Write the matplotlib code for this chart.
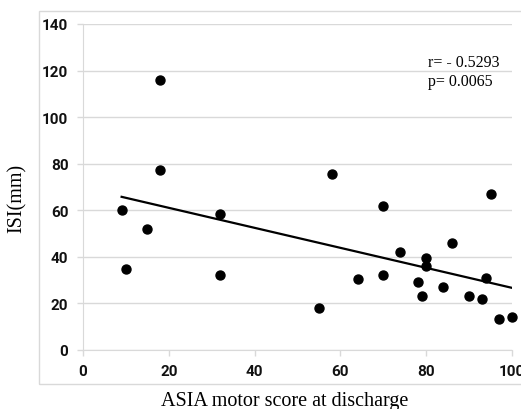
import matplotlib
matplotlib.use("Agg")
import matplotlib.pyplot as plt
import numpy as np
from matplotlib.patches import Rectangle

asia_score = [9, 10, 15, 18, 18, 32, 32, 55, 58, 64, 70, 70, 74, 78, 79, 80, 80, 84, 86, 90, 93, 94, 95, 97, 100]
isi_mm = [60, 35, 52, 116, 77.5, 58.5, 32, 18, 75.5, 30.5, 62, 32, 42, 29, 23, 39.5, 36, 27, 46, 23, 22, 31, 67, 13.5, 14]
x_ticks = [0, 20, 40, 60, 80, 100]
y_ticks = [0, 20, 40, 60, 80, 100, 120, 140]

fig = plt.figure(figsize=(5.21, 4.10), dpi=100)
fig.patches.append(Rectangle((39/521, (410-385)/410), 1.0, (385-12)/410,
                             transform=fig.transFigure, fill=False,
                             edgecolor='#d9d9d9', linewidth=1.0, figure=fig))
ax = fig.add_axes([83/521, (410-351)/410, (512-83)/521, (351-25)/410])

ax.set_xlim(0, 100)
ax.set_ylim(0, 140)
ax.set_xticks(x_ticks)
ax.set_yticks(y_ticks)
ax.grid(axis='y', color='#d9d9d9', linewidth=1.0)
ax.set_axisbelow(True)
for s in ['top', 'right']:
    ax.spines[s].set_visible(False)
for s in ['left', 'bottom']:
    ax.spines[s].set_color('#d9d9d9')
ax.tick_params(axis='both', colors='#d9d9d9', length=4, width=1.0, labelcolor='#111111', labelsize=11)
for lab in ax.get_xticklabels() + ax.get_yticklabels():
    lab.set_fontweight('bold')
    lab.set_family(['Roboto', 'DejaVu Sans'])
ax.xaxis.set_tick_params(pad=6)
ax.yaxis.set_tick_params(pad=6.5)

ax.scatter(asia_score, isi_mm, s=42, color='black', zorder=3, clip_on=False)

coef = np.polyfit(asia_score, isi_mm, 1)
xl = np.array([min(asia_score), max(asia_score)])
ax.plot(xl, np.polyval(coef, xl), color='black', linewidth=1.6, zorder=2)

ax.text(80.4, 123.6, 'r= - 0.5293', family='Liberation Serif', fontsize=11.5, va='center')
ax.text(80.4, 115.4, 'p= 0.0065', family='Liberation Serif', fontsize=11.5, va='center')

fig.text(17/521, 1 - 198/410, 'ISI(mm)', family='Liberation Serif', fontsize=14.5,
         rotation=90, ha='center', va='center')
fig.text(285/521, 1 - 402/410, 'ASIA motor score at discharge',
         family='Liberation Serif', fontsize=14.5, ha='center', va='center')

fig.savefig('out.png', dpi=100)
